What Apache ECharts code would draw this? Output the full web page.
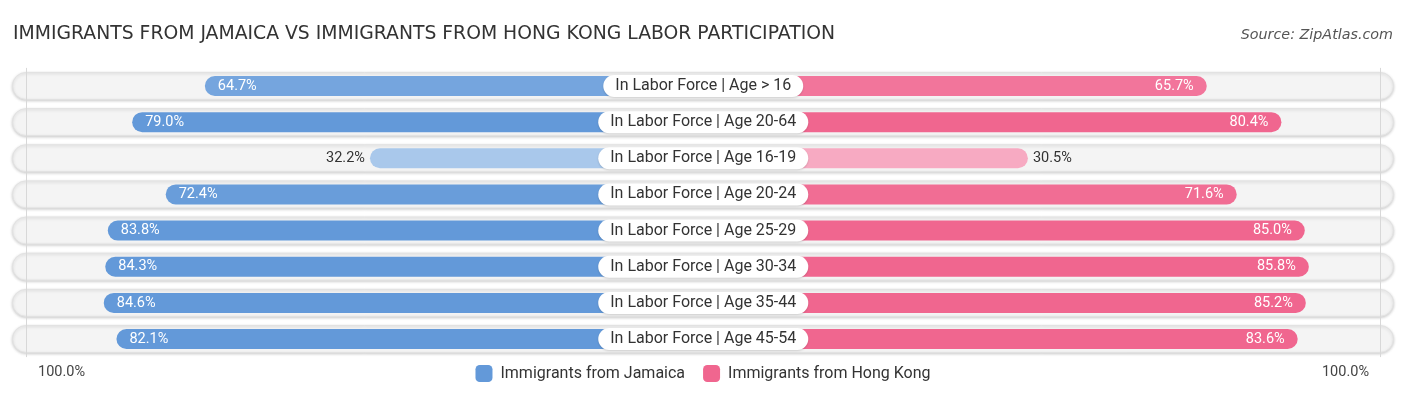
<!DOCTYPE html>
<html>
<head>
<meta charset="utf-8">
<script src="https://cdn.jsdelivr.net/npm/echarts@6/dist/echarts.min.js"></script>
<style>
html,body{margin:0;padding:0;background:#fff;}
#chart{width:1406px;height:395px;}
</style>
</head>
<body>
<div id="chart"></div>
<script>
const categories = [
  'In Labor Force | Age > 16',
  'In Labor Force | Age 20-64',
  'In Labor Force | Age 16-19',
  'In Labor Force | Age 20-24',
  'In Labor Force | Age 25-29',
  'In Labor Force | Age 30-34',
  'In Labor Force | Age 35-44',
  'In Labor Force | Age 45-54'
];
const jamaica = [64.7, 79.0, 32.2, 72.4, 83.8, 84.3, 84.6, 82.1];
const hongKong = [65.7, 80.4, 30.5, 71.6, 85.0, 85.8, 85.2, 83.6];
const axisTickLabels = ['100.0%', '100.0%'];
const seriesNames = ['Immigrants from Jamaica', 'Immigrants from Hong Kong'];

const OFF = 33.4; // offset under central label box, in % units
const MAXV = 100 + OFF;

function mix(c1, c2, t) {
  const a = [1,3,5].map(i => parseInt(c1.substr(i,2),16));
  const b = [1,3,5].map(i => parseInt(c2.substr(i,2),16));
  return 'rgb(' + a.map((v,i) => Math.round(v + (b[i]-v)*t)).join(',') + ')';
}
function shade(v, light, full) {
  let t = (v - 30) / (76 - 30);
  t = Math.max(0, Math.min(1, t));
  return mix(light, full, t);
}
const BLUE = '#6399d9', BLUE_L = '#adcaec';
const PINK = '#f0668f', PINK_L = '#f7abc3';

const chart = echarts.init(document.getElementById('chart'));
const FONT = 'Roboto';

const leftData = jamaica.map(v => {
  const inside = v > 45;
  return {
    value: -(v + OFF),
    itemStyle: { color: shade(v, BLUE_L, BLUE) },
    label: inside
      ? { position: 'insideLeft', distance: 13, color: '#fff' }
      : { position: 'left', distance: 5, color: '#333' }
  };
});
const rightData = hongKong.map(v => {
  const inside = v > 45;
  return {
    value: v + OFF,
    itemStyle: { color: shade(v, PINK_L, PINK) },
    label: inside
      ? { position: 'insideRight', distance: 13, color: '#fff' }
      : { position: 'right', distance: 5, color: '#333' }
  };
});

const gridTop = 67.9, gridBottom = 37.9;

const option = {
  animation: false,
  backgroundColor: '#fff',
  title: [
    { text: 'IMMIGRANTS FROM JAMAICA VS IMMIGRANTS FROM HONG KONG LABOR PARTICIPATION',
      left: 8, top: 20,
      textStyle: { fontFamily: 'DejaVu Sans', fontSize: 18.8, fontWeight: 'normal', color: '#333' } },
    { text: 'Source: ZipAtlas.com', right: 8, top: 23,
      textStyle: { fontFamily: 'DejaVu Sans', fontSize: 14.3, fontStyle: 'italic', fontWeight: 'normal', color: '#555' } },
    { text: axisTickLabels[0], left: 33, top: 360,
      textStyle: { fontFamily: FONT, fontSize: 14.5, fontWeight: 'normal', color: '#444' } },
    { text: axisTickLabels[1], right: 32, top: 360,
      textStyle: { fontFamily: FONT, fontSize: 14.5, fontWeight: 'normal', color: '#444' } }
  ],
  legend: {
    data: seriesNames,
    left: 'center', top: 360,
    itemWidth: 17, itemHeight: 17, itemGap: 18,
    icon: 'roundRect',
    textStyle: { fontFamily: FONT, fontSize: 16, color: '#333', padding: [0, 0, 0, 3] }
  },
  grid: [
    { left: 12, right: 12, top: gridTop, bottom: gridBottom },
    { left: 25.5, right: 25, top: gridTop, bottom: gridBottom }
  ],
  xAxis: [
    { gridIndex: 0, type: 'value', min: 0, max: 1, show: false },
    { gridIndex: 1, type: 'value', min: -MAXV, max: MAXV, show: false }
  ],
  yAxis: [
    { gridIndex: 0, type: 'category', data: categories, inverse: true, show: false },
    { gridIndex: 1, type: 'category', data: categories, inverse: true, show: false }
  ],
  series: [
    {
      type: 'bar', xAxisIndex: 0, yAxisIndex: 0, silent: true, z: 1,
      barWidth: 28,
      data: categories.map(() => 1),
      itemStyle: { color: '#f4f4f4', borderColor: '#e2e2e2', borderWidth: 1, borderRadius: 14,
                   shadowColor: 'rgba(0,0,0,0.18)', shadowBlur: 3, shadowOffsetY: 1 },
      markLine: {
        silent: true, symbol: 'none', label: { show: false },
        lineStyle: { color: '#d8d8d8', width: 1, type: 'solid' },
        data: [{ xAxis: 0.01302 }, { xAxis: 0.9877 }]
      }
    },
    {
      name: seriesNames[0],
      type: 'bar', xAxisIndex: 1, yAxisIndex: 1, z: 3,
      barWidth: 20, barGap: '-100%',
      itemStyle: { color: BLUE, borderRadius: 10 },
      label: { show: true, fontFamily: FONT, fontSize: 14.5,
               formatter: p => jamaica[p.dataIndex].toFixed(1) + '%' },
      data: leftData
    },
    {
      name: seriesNames[1],
      type: 'bar', xAxisIndex: 1, yAxisIndex: 1, z: 3,
      barWidth: 20, barGap: '-100%',
      itemStyle: { color: PINK, borderRadius: 10 },
      label: { show: true, fontFamily: FONT, fontSize: 14.5,
               formatter: p => hongKong[p.dataIndex].toFixed(1) + '%' },
      data: rightData
    },
    {
      type: 'scatter', xAxisIndex: 1, yAxisIndex: 1, z: 5, silent: true,
      symbolSize: 2, itemStyle: { color: 'rgba(0,0,0,0)', opacity: 1 },
      data: categories.map((c, i) => [0, i]),
      label: {
        show: true, position: 'inside',
        formatter: p => categories[p.dataIndex],
        fontFamily: FONT, fontSize: 16, color: '#333',
        backgroundColor: '#fff', borderRadius: 11,
        padding: [3, 12, 3, 12],
        shadowColor: 'rgba(0,0,0,0.15)', shadowBlur: 2, shadowOffsetY: 1
      },
      labelLayout: { hideOverlap: false }
    }
  ]
};
chart.setOption(option);
</script>
</body>
</html>
